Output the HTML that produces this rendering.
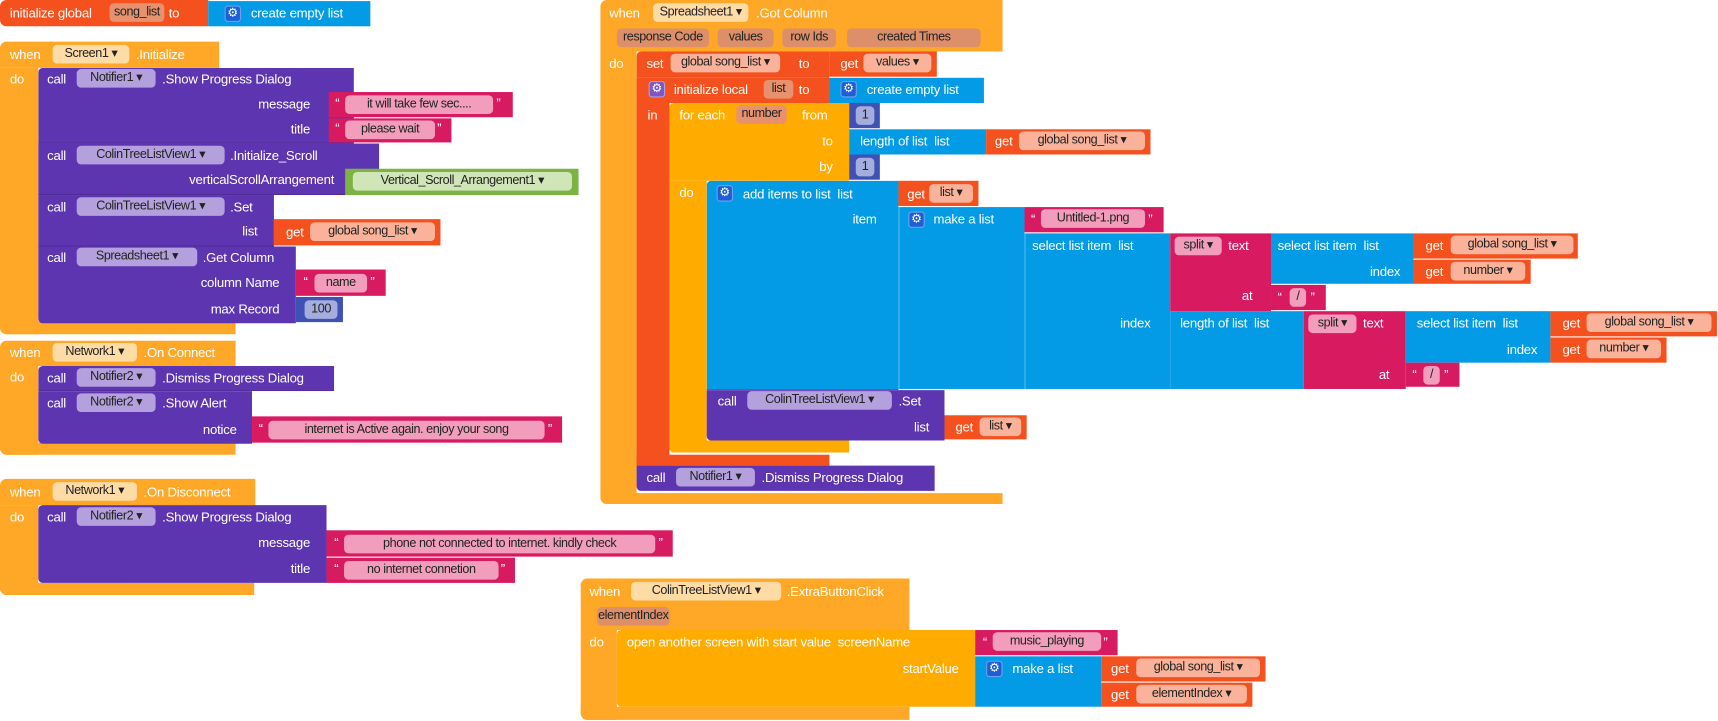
<!DOCTYPE html>
<html><head><meta charset="utf-8"><style>
body{margin:0;width:1718px;height:720px;background:#fff;position:relative;overflow:hidden;font-family:"Liberation Sans",Arial,sans-serif;font-size:12px;color:#fff}
#w{position:absolute;left:0;top:0;width:1568px;height:658px;transform:scale(1.0957);transform-origin:0 0}
.r{position:absolute;box-sizing:border-box}
.t{line-height:16px;white-space:nowrap;letter-spacing:-0.2px}
.e{text-align:right}
.c{height:17px;line-height:17px;border-radius:4px;color:#222;text-align:center;white-space:nowrap;font-size:11.5px;letter-spacing:-0.4px;overflow:hidden}
.EV{background:#FFA726}.OR{background:#F4511E}.PU{background:#5E35B1}.PK{background:#D81B60}.BL{background:#039BE5}.GR{background:#7CB342}.MA{background:#3F51B5}.CT{background:#FFAB00}
.ce{background:#FFDBA6}.cp{background:#DC8F68}.cv{background:#E8916F}.cg{background:#FAB39A}.cu{background:#B3A0DC}.ck{background:#F29DBB}.cm{background:#A4ADDD}.cn{background:#D0E6B8}
.g{width:15px;height:15px;border-radius:3px;background:#1E5FD6;border:1px solid #6fa0f0;color:#fff;font-size:11px;line-height:13px;text-align:center}
.bd{border-bottom:1px solid rgba(0,0,0,.15)}
</style></head><body><div id="w">

<!-- Block 1 -->
<div class="r OR" style="left:0;top:0;width:190px;height:24px;border-radius:6px 0 0 6px"></div>
<span class="r t" style="left:9px;top:4px">initialize global</span>
<span class="r c cv" style="left:100px;top:3px;width:50px">song_list</span>
<span class="r t" style="left:154px;top:4px">to</span>
<div class="r BL" style="left:190px;top:1px;width:148px;height:23px"></div>
<span class="r g" style="left:205px;top:5px">⚙</span>
<span class="r t" style="left:229px;top:4px">create empty list</span>

<!-- Block 2 -->
<div class="r EV" style="left:0;top:38px;width:200px;height:24px;border-radius:6px 0 0 0"></div>
<div class="r EV" style="left:0;top:62px;width:35px;height:243px;border-radius:0 0 0 6px"></div>
<div class="r EV" style="left:0;top:293px;width:215px;height:12px;border-radius:0 0 0 6px"></div>
<span class="r t" style="left:9px;top:42px">when</span>
<span class="r c ce" style="left:48px;top:41px;width:70px">Screen1 ▾</span>
<span class="r t" style="left:124px;top:42px">.Initialize</span>
<span class="r t" style="left:9px;top:64px">do</span>

<div class="r PU bd" style="left:35px;top:62px;width:288px;height:69px;border-radius:4px 0 0 0"></div>
<span class="r t" style="left:43px;top:64px">call</span>
<span class="r c cu" style="left:70px;top:63px;width:72px">Notifier1 ▾</span>
<span class="r t" style="left:148px;top:64px">.Show Progress Dialog</span>
<span class="r t e" style="left:183px;top:87px;width:100px">message</span>
<span class="r t e" style="left:183px;top:110px;width:100px">title</span>
<div class="r PK" style="left:300px;top:84px;width:168px;height:23px"></div>
<span class="r t" style="left:306px;top:86px">“</span>
<span class="r c ck" style="left:315px;top:87px;width:135px">it will take few sec....</span>
<span class="r t" style="left:453px;top:86px">”</span>
<div class="r PK" style="left:300px;top:108px;width:112px;height:22px"></div>
<span class="r t" style="left:306px;top:109px">“</span>
<span class="r c ck" style="left:315px;top:110px;width:82px">please wait</span>
<span class="r t" style="left:399px;top:109px">”</span>

<div class="r PU bd" style="left:35px;top:131px;width:311px;height:47px"></div>
<span class="r t" style="left:43px;top:134px">call</span>
<span class="r c cu" style="left:70px;top:133px;width:135px">ColinTreeListView1 ▾</span>
<span class="r t" style="left:210px;top:134px">.Initialize_Scroll</span>
<span class="r t e" style="left:105px;top:156px;width:200px">verticalScrollArrangement</span>
<div class="r GR" style="left:315px;top:154px;width:213px;height:24px"></div>
<span class="r c cn" style="left:322px;top:157px;width:200px">Vertical_Scroll_Arrangement1 ▾</span>

<div class="r PU bd" style="left:35px;top:178px;width:215px;height:47px"></div>
<span class="r t" style="left:43px;top:181px">call</span>
<span class="r c cu" style="left:70px;top:180px;width:135px">ColinTreeListView1 ▾</span>
<span class="r t" style="left:210px;top:181px">.Set</span>
<span class="r t e" style="left:135px;top:203px;width:100px">list</span>
<div class="r OR" style="left:250px;top:200px;width:152px;height:24px"></div>
<span class="r t" style="left:261px;top:204px">get</span>
<span class="r c cg" style="left:283px;top:203px;width:114px">global song_list ▾</span>

<div class="r PU" style="left:35px;top:225px;width:235px;height:70px;border-radius:0 0 0 4px"></div>
<span class="r t" style="left:43px;top:227px">call</span>
<span class="r c cu" style="left:70px;top:226px;width:110px">Spreadsheet1 ▾</span>
<span class="r t" style="left:185px;top:227px">.Get Column</span>
<span class="r t e" style="left:105px;top:250px;width:150px">column Name</span>
<span class="r t e" style="left:105px;top:274px;width:150px">max Record</span>
<div class="r PK" style="left:270px;top:246px;width:82px;height:24px"></div>
<span class="r t" style="left:277px;top:249px">“</span>
<span class="r c ck" style="left:287px;top:250px;width:48px">name</span>
<span class="r t" style="left:338px;top:249px">”</span>
<div class="r MA" style="left:270px;top:271px;width:43px;height:23px"></div>
<span class="r c cm" style="left:278px;top:274px;width:30px">100</span>

<!-- Block 3 -->
<div class="r EV" style="left:0;top:311px;width:215px;height:23px;border-radius:6px 0 0 0"></div>
<div class="r EV" style="left:0;top:334px;width:35px;height:81px;border-radius:0 0 0 6px"></div>
<div class="r EV" style="left:0;top:404px;width:215px;height:11px;border-radius:0 0 0 6px"></div>
<span class="r t" style="left:9px;top:314px">when</span>
<span class="r c ce" style="left:48px;top:313px;width:77px">Network1 ▾</span>
<span class="r t" style="left:131px;top:314px">.On Connect</span>
<span class="r t" style="left:9px;top:336px">do</span>
<div class="r PU bd" style="left:35px;top:334px;width:270px;height:23px;border-radius:4px 0 0 0"></div>
<span class="r t" style="left:43px;top:337px">call</span>
<span class="r c cu" style="left:70px;top:336px;width:72px">Notifier2 ▾</span>
<span class="r t" style="left:148px;top:337px">.Dismiss Progress Dialog</span>
<div class="r PU" style="left:35px;top:357px;width:195px;height:48px;border-radius:0 0 0 4px"></div>
<span class="r t" style="left:43px;top:360px">call</span>
<span class="r c cu" style="left:70px;top:359px;width:72px">Notifier2 ▾</span>
<span class="r t" style="left:148px;top:360px">.Show Alert</span>
<span class="r t e" style="left:116px;top:384px;width:100px">notice</span>
<div class="r PK" style="left:230px;top:380px;width:283px;height:24px"></div>
<span class="r t" style="left:236px;top:383px">“</span>
<span class="r c ck" style="left:245px;top:384px;width:252px">internet is Active again. enjoy your song</span>
<span class="r t" style="left:500px;top:383px">”</span>

<!-- Block 4 -->
<div class="r EV" style="left:0;top:437px;width:233px;height:24px;border-radius:6px 0 0 0"></div>
<div class="r EV" style="left:0;top:461px;width:35px;height:82px;border-radius:0 0 0 6px"></div>
<div class="r EV" style="left:0;top:532px;width:232px;height:11px;border-radius:0 0 0 6px"></div>
<span class="r t" style="left:9px;top:441px">when</span>
<span class="r c ce" style="left:48px;top:440px;width:77px">Network1 ▾</span>
<span class="r t" style="left:131px;top:441px">.On Disconnect</span>
<span class="r t" style="left:9px;top:464px">do</span>
<div class="r PU" style="left:35px;top:461px;width:263px;height:71px;border-radius:4px 0 0 4px"></div>
<span class="r t" style="left:43px;top:464px">call</span>
<span class="r c cu" style="left:70px;top:463px;width:72px">Notifier2 ▾</span>
<span class="r t" style="left:148px;top:464px">.Show Progress Dialog</span>
<span class="r t e" style="left:183px;top:487px;width:100px">message</span>
<span class="r t e" style="left:183px;top:511px;width:100px">title</span>
<div class="r PK" style="left:298px;top:484px;width:316px;height:24px"></div>
<span class="r t" style="left:305px;top:487px">“</span>
<span class="r c ck" style="left:314px;top:488px;width:284px">phone not connected to internet. kindly check</span>
<span class="r t" style="left:601px;top:487px">”</span>
<div class="r PK" style="left:298px;top:509px;width:172px;height:23px"></div>
<span class="r t" style="left:305px;top:511px">“</span>
<span class="r c ck" style="left:314px;top:512px;width:141px">no internet connetion</span>
<span class="r t" style="left:457px;top:511px">”</span>

<!-- Block 5 -->
<div class="r EV" style="left:548px;top:0;width:367px;height:47px;border-radius:6px 0 0 0"></div>
<div class="r EV" style="left:548px;top:47px;width:33px;height:413px;border-radius:0 0 0 6px"></div>
<div class="r EV" style="left:548px;top:450px;width:367px;height:10px;border-radius:0 0 0 6px"></div>
<span class="r t" style="left:556px;top:4px">when</span>
<span class="r c ce" style="left:596px;top:3px;width:87px">Spreadsheet1 ▾</span>
<span class="r t" style="left:690px;top:4px">.Got Column</span>
<span class="r c cp" style="left:563px;top:26px;width:84px">response Code</span>
<span class="r c cp" style="left:655px;top:26px;width:51px">values</span>
<span class="r c cp" style="left:714px;top:26px;width:49px">row Ids</span>
<span class="r c cp" style="left:773px;top:26px;width:122px">created Times</span>
<span class="r t" style="left:556px;top:50px">do</span>

<div class="r OR bd" style="left:581px;top:47px;width:176px;height:24px;border-radius:4px 0 0 0"></div>
<span class="r t" style="left:590px;top:50px">set</span>
<span class="r c cg" style="left:612px;top:49px;width:100px">global song_list ▾</span>
<span class="r t" style="left:729px;top:50px">to</span>
<div class="r OR" style="left:757px;top:47px;width:98px;height:23px"></div>
<span class="r t" style="left:767px;top:50px">get</span>
<span class="r c cg" style="left:788px;top:49px;width:62px">values ▾</span>

<div class="r OR" style="left:581px;top:71px;width:176px;height:23px"></div>
<div class="r OR" style="left:581px;top:94px;width:30px;height:331px"></div>
<div class="r OR" style="left:581px;top:415px;width:176px;height:10px"></div>
<span class="r g" style="left:592px;top:74px;background:#7E57C2;border-color:#b39ddb">⚙</span>
<span class="r t" style="left:615px;top:74px">initialize local</span>
<span class="r c cv" style="left:697px;top:73px;width:27px">list</span>
<span class="r t" style="left:729px;top:74px">to</span>
<div class="r BL" style="left:757px;top:71px;width:141px;height:23px"></div>
<span class="r g" style="left:767px;top:74px">⚙</span>
<span class="r t" style="left:791px;top:74px">create empty list</span>
<span class="r t" style="left:591px;top:97px">in</span>

<div class="r CT" style="left:611px;top:94px;width:164px;height:71px;border-radius:4px 0 0 0"></div>
<div class="r CT" style="left:611px;top:165px;width:34px;height:248px;border-radius:0 0 0 4px"></div>
<div class="r CT" style="left:611px;top:402px;width:164px;height:11px;border-radius:0 0 0 4px"></div>
<span class="r t" style="left:620px;top:97px">for each</span>
<span class="r c cv" style="left:672px;top:96px;width:46px">number</span>
<span class="r t" style="left:732px;top:97px">from</span>
<span class="r t e" style="left:700px;top:121px;width:60px">to</span>
<span class="r t e" style="left:700px;top:144px;width:60px">by</span>
<span class="r t" style="left:620px;top:168px">do</span>
<div class="r MA" style="left:775px;top:94px;width:28px;height:23px"></div>
<span class="r c cm" style="left:781px;top:97px;width:17px">1</span>
<div class="r BL" style="left:775px;top:118px;width:125px;height:23px"></div>
<span class="r t" style="left:785px;top:121px">length of list &nbsp;list</span>
<div class="r OR" style="left:900px;top:118px;width:150px;height:23px"></div>
<span class="r t" style="left:908px;top:121px">get</span>
<span class="r c cg" style="left:930px;top:120px;width:115px">global song_list ▾</span>
<div class="r MA" style="left:775px;top:141px;width:28px;height:23px"></div>
<span class="r c cm" style="left:781px;top:144px;width:17px">1</span>

<div class="r BL bd" style="left:645px;top:165px;width:175px;height:191px;border-radius:4px 0 0 0"></div>
<span class="r g" style="left:654px;top:169px">⚙</span>
<span class="r t" style="left:678px;top:169px">add items to list &nbsp;list</span>
<span class="r t e" style="left:700px;top:192px;width:100px">item</span>
<div class="r OR" style="left:820px;top:165px;width:73px;height:23px"></div>
<span class="r t" style="left:828px;top:169px">get</span>
<span class="r c cg" style="left:848px;top:168px;width:40px">list ▾</span>
<div class="r BL" style="left:820px;top:189px;width:115px;height:166px;border-left:1px solid rgba(255,255,255,.3)"></div>
<span class="r g" style="left:829px;top:193px">⚙</span>
<span class="r t" style="left:852px;top:192px">make a list</span>
<div class="r PK" style="left:935px;top:189px;width:127px;height:23px"></div>
<span class="r t" style="left:941px;top:192px">“</span>
<span class="r c ck" style="left:950px;top:191px;width:95px">Untitled-1.png</span>
<span class="r t" style="left:1048px;top:192px">”</span>

<div class="r BL" style="left:935px;top:213px;width:133px;height:142px;border-left:1px solid rgba(255,255,255,.3)"></div>
<span class="r t" style="left:942px;top:216px">select list item &nbsp;list</span>
<span class="r t e" style="left:950px;top:287px;width:100px">index</span>
<div class="r PK" style="left:1068px;top:213px;width:92px;height:71px"></div>
<span class="r c ck" style="left:1072px;top:216px;width:43px">split ▾</span>
<span class="r t" style="left:1121px;top:216px">text</span>
<span class="r t e" style="left:1100px;top:262px;width:43px">at</span>
<div class="r PK" style="left:1160px;top:260px;width:50px;height:23px"></div>
<span class="r t" style="left:1166px;top:263px">“</span>
<span class="r c ck" style="left:1177px;top:263px;width:15px">/</span>
<span class="r t" style="left:1196px;top:263px">”</span>
<div class="r BL" style="left:1160px;top:213px;width:130px;height:46px"></div>
<span class="r t" style="left:1166px;top:216px">select list item &nbsp;list</span>
<span class="r t e" style="left:1178px;top:240px;width:100px">index</span>
<div class="r OR" style="left:1290px;top:213px;width:150px;height:23px"></div>
<span class="r t" style="left:1301px;top:216px">get</span>
<span class="r c cg" style="left:1324px;top:215px;width:112px">global song_list ▾</span>
<div class="r OR" style="left:1290px;top:237px;width:107px;height:22px"></div>
<span class="r t" style="left:1301px;top:240px">get</span>
<span class="r c cg" style="left:1324px;top:239px;width:68px">number ▾</span>

<div class="r BL" style="left:1068px;top:284px;width:122px;height:71px"></div>
<span class="r t" style="left:1077px;top:287px">length of list &nbsp;list</span>
<div class="r PK" style="left:1190px;top:284px;width:93px;height:71px"></div>
<span class="r c ck" style="left:1194px;top:287px;width:44px">split ▾</span>
<span class="r t" style="left:1244px;top:287px">text</span>
<span class="r t e" style="left:1225px;top:334px;width:43px">at</span>
<div class="r BL" style="left:1283px;top:284px;width:132px;height:47px"></div>
<span class="r t" style="left:1293px;top:287px">select list item &nbsp;list</span>
<span class="r t e" style="left:1303px;top:311px;width:100px">index</span>
<div class="r OR" style="left:1415px;top:284px;width:152px;height:23px"></div>
<span class="r t" style="left:1426px;top:287px">get</span>
<span class="r c cg" style="left:1448px;top:286px;width:114px">global song_list ▾</span>
<div class="r OR" style="left:1415px;top:308px;width:106px;height:23px"></div>
<span class="r t" style="left:1426px;top:311px">get</span>
<span class="r c cg" style="left:1448px;top:310px;width:68px">number ▾</span>
<div class="r PK" style="left:1283px;top:331px;width:49px;height:22px"></div>
<span class="r t" style="left:1289px;top:334px">“</span>
<span class="r c ck" style="left:1299px;top:334px;width:15px">/</span>
<span class="r t" style="left:1318px;top:334px">”</span>

<div class="r PU" style="left:645px;top:356px;width:217px;height:46px;border-radius:0 0 0 4px"></div>
<span class="r t" style="left:655px;top:358px">call</span>
<span class="r c cu" style="left:682px;top:357px;width:132px">ColinTreeListView1 ▾</span>
<span class="r t" style="left:820px;top:358px">.Set</span>
<span class="r t e" style="left:748px;top:382px;width:100px">list</span>
<div class="r OR" style="left:862px;top:379px;width:75px;height:22px"></div>
<span class="r t" style="left:872px;top:382px">get</span>
<span class="r c cg" style="left:894px;top:381px;width:38px">list ▾</span>

<div class="r PU" style="left:581px;top:425px;width:272px;height:23px;border-radius:0 0 0 4px"></div>
<span class="r t" style="left:590px;top:428px">call</span>
<span class="r c cu" style="left:617px;top:427px;width:72px">Notifier1 ▾</span>
<span class="r t" style="left:695px;top:428px">.Dismiss Progress Dialog</span>

<!-- Block 6 -->
<div class="r EV" style="left:530px;top:528px;width:300px;height:47px;border-radius:6px 0 0 0"></div>
<div class="r EV" style="left:530px;top:575px;width:33px;height:82px;border-radius:0 0 0 6px"></div>
<div class="r EV" style="left:530px;top:645px;width:300px;height:12px;border-radius:0 0 0 6px"></div>
<span class="r t" style="left:538px;top:532px">when</span>
<span class="r c ce" style="left:576px;top:531px;width:137px">ColinTreeListView1 ▾</span>
<span class="r t" style="left:718px;top:532px">.ExtraButtonClick</span>
<span class="r c cp" style="left:545px;top:554px;width:66px">elementIndex</span>
<span class="r t" style="left:538px;top:578px">do</span>
<div class="r CT" style="left:563px;top:575px;width:327px;height:70px;border-radius:4px 0 0 4px"></div>
<span class="r t" style="left:572px;top:578px">open another screen with start value &nbsp;screenName</span>
<span class="r t e" style="left:775px;top:602px;width:100px">startValue</span>
<div class="r PK" style="left:890px;top:575px;width:130px;height:23px"></div>
<span class="r t" style="left:897px;top:578px">“</span>
<span class="r c ck" style="left:906px;top:577px;width:99px">music_playing</span>
<span class="r t" style="left:1007px;top:578px">”</span>
<div class="r BL" style="left:890px;top:599px;width:115px;height:46px"></div>
<span class="r g" style="left:900px;top:603px">⚙</span>
<span class="r t" style="left:924px;top:602px">make a list</span>
<div class="r OR" style="left:1005px;top:599px;width:150px;height:23px"></div>
<span class="r t" style="left:1014px;top:602px">get</span>
<span class="r c cg" style="left:1037px;top:601px;width:113px">global song_list ▾</span>
<div class="r OR" style="left:1005px;top:623px;width:138px;height:22px"></div>
<span class="r t" style="left:1014px;top:626px">get</span>
<span class="r c cg" style="left:1037px;top:625px;width:101px">elementIndex ▾</span>

</div></body></html>
